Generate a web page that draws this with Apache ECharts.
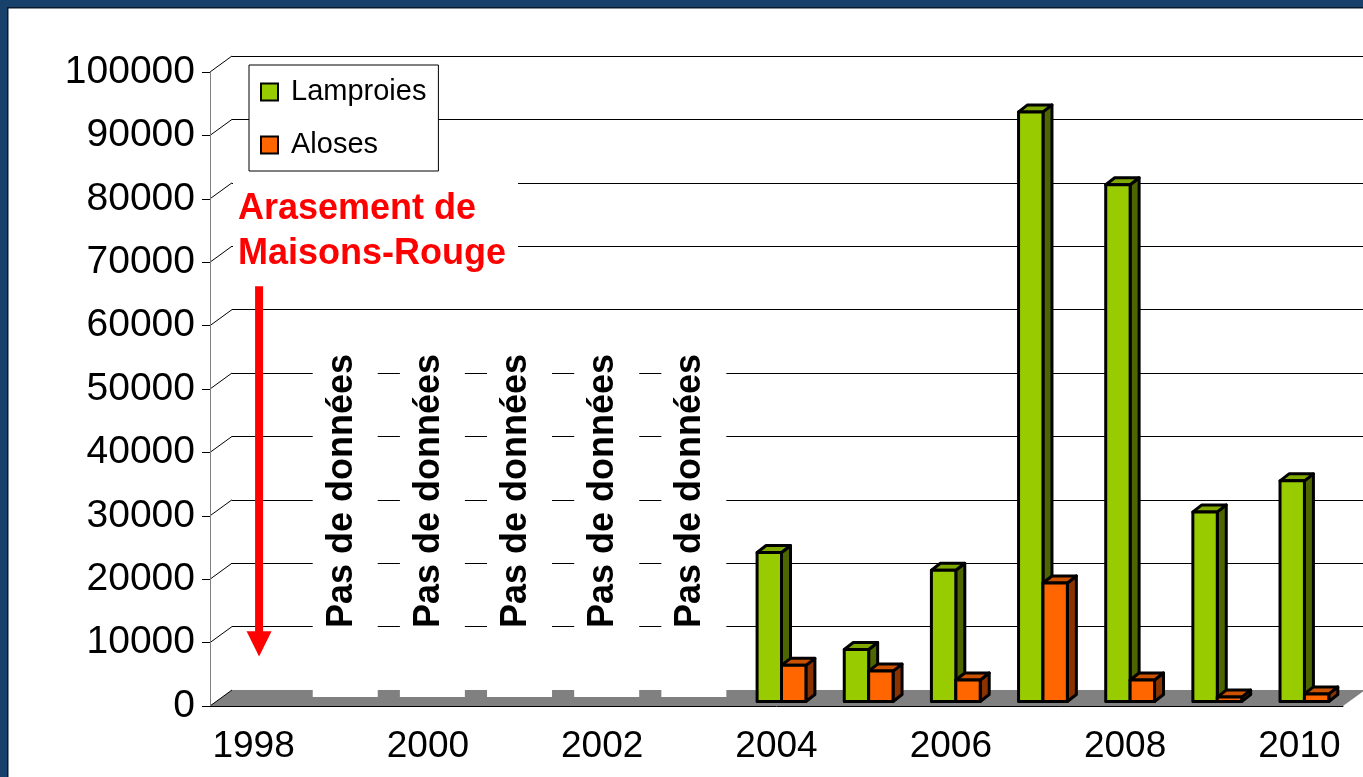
<!DOCTYPE html>
<html>
<head>
<meta charset="utf-8">
<title>Lamproies et aloses</title>
<script src="https://cdn.jsdelivr.net/npm/echarts@6/dist/echarts.min.js"></script>
<style>
  html, body { margin: 0; padding: 0; background: #fff; }
  #chart { width: 1363px; height: 777px; }
</style>
</head>
<body>
<div id="chart"></div>
<script>
// data
const years = ['1998', '1999', '2000', '2001', '2002', '2003', '2004', '2005', '2006', '2007', '2008', '2009', '2010'];
const lamproies = [null, null, null, null, null, null, 23500, 8200, 20700, 93000, 81500, 29900, 34800];
const aloses = [null, null, null, null, null, null, 5700, 4800, 3400, 18700, 3400, 700, 1200];
const noDataYears = ['1999', '2000', '2001', '2002', '2003'];
const yTicks = [0, 10000, 20000, 30000, 40000, 50000, 60000, 70000, 80000, 90000, 100000];
const seriesNames = ['Lamproies', 'Aloses'];
const damYear = '1998';

const FONT = "'Liberation Sans', Arial, Helvetica, sans-serif";
// 3D look: back wall offset, and the plane the bars stand in
const DEPTH = { dx: 22, dy: -16 };
const BAR_PLANE = { dx: 5, dy: -4.5 };
const BAR_DEPTH = { dx: 9, dy: -7 };

const chart = echarts.init(document.getElementById('chart'));

function barRenderer(idx, front, top, side) {
  return function (params, api) {
    const v = api.value(1);
    if (v == null || isNaN(v)) return null;
    const base = api.coord([api.value(0), 0]);
    const head = api.coord([api.value(0), v]);
    const band = api.size([1, 0])[0];
    const bw = band * 0.28;
    const cx = base[0] + BAR_PLANE.dx;
    const l = idx === 0 ? cx - bw : cx;
    const r = l + bw;
    const yb = base[1] + BAR_PLANE.dy;
    const yt = head[1] + BAR_PLANE.dy;
    const dx = BAR_DEPTH.dx, dy = BAR_DEPTH.dy;
    const stroke = { stroke: '#000', lineWidth: 3, lineJoin: 'round' };
    return {
      type: 'group',
      children: [
        { type: 'polygon', shape: { points: [[r, yt], [r + dx, yt + dy], [r + dx, yb + dy], [r, yb]] },
          style: Object.assign({ fill: side }, stroke) },
        { type: 'polygon', shape: { points: [[l, yt], [l + dx, yt + dy], [r + dx, yt + dy], [r, yt]] },
          style: Object.assign({ fill: top }, stroke) },
        { type: 'rect', shape: { x: l, y: yt, width: bw, height: yb - yt },
          style: Object.assign({ fill: front }, stroke) }
      ]
    };
  };
}

const option = {
  animation: false,
  textStyle: { fontFamily: FONT },
  grid: [
    { left: 210, top: 72, width: 1133, height: 634, outerBoundsMode: 'none' },
    { left: 232, top: 56, width: 1133, height: 634, outerBoundsMode: 'none' }
  ],
  legend: {
    left: 249,
    top: 65,
    orient: 'vertical',
    icon: 'rect',
    itemWidth: 17,
    itemHeight: 17,
    itemGap: 17,
    padding: [9, 12, 8, 11],
    backgroundColor: '#fff',
    borderColor: '#000',
    borderWidth: 1,
    selectedMode: false,
    itemStyle: { borderColor: '#000', borderWidth: 2 },
    textStyle: { fontSize: 29, color: '#000', lineHeight: 36, padding: [0, 0, 0, 8], fontFamily: FONT },
    data: seriesNames,
    z: 6
  },
  xAxis: [
    {
      gridIndex: 0,
      type: 'category',
      data: years,
      boundaryGap: true,
      z: 10,
      axisLine: { lineStyle: { color: '#000', width: 1 } },
      axisTick: { interval: 0, length: 9, lineStyle: { color: '#808080' } },
      axisLabel: { interval: 1, fontSize: 37, color: '#000', margin: 22, fontFamily: FONT, hideOverlap: false },
      splitLine: { show: false }
    },
    { gridIndex: 1, type: 'category', data: years, show: false }
  ],
  yAxis: [
    {
      gridIndex: 0,
      type: 'value',
      min: 0,
      max: 100000,
      interval: 10000,
      z: 10,
      axisLine: { show: true, lineStyle: { color: '#808080' } },
      axisTick: { show: true, length: 8, lineStyle: { color: '#000' } },
      axisLabel: { fontSize: 39, color: '#000', margin: 15, fontFamily: FONT, formatter: v => String(v), hideOverlap: false },
      splitLine: { show: false }
    },
    {
      gridIndex: 1,
      type: 'value',
      min: 0,
      max: 100000,
      interval: 10000,
      axisLine: { show: false },
      axisTick: { show: false },
      axisLabel: { show: false },
      splitLine: { show: true, lineStyle: { color: '#000', width: 1 } }
    }
  ],
  series: [
    {
      // grey floor
      type: 'custom',
      silent: true,
      z: 1,
      xAxisIndex: 0,
      yAxisIndex: 0,
      data: [[0, 0]],
      renderItem: function (params, api) {
        const cs = params.coordSys;
        const y0 = api.coord([0, 0])[1];
        return {
          type: 'polygon',
          shape: { points: [[cs.x, y0], [cs.x + cs.width, y0], [cs.x + cs.width + DEPTH.dx, y0 + DEPTH.dy], [cs.x + DEPTH.dx, y0 + DEPTH.dy]] },
          style: { fill: '#808080' }
        };
      }
    },
    {
      // side wall lines joining the front ticks to the back grid
      type: 'custom',
      silent: true,
      z: 4,
      xAxisIndex: 0,
      yAxisIndex: 0,
      data: yTicks.map(v => [0, v]),
      renderItem: function (params, api) {
        const cs = params.coordSys;
        const y = api.coord([0, api.value(1)])[1];
        return {
          type: 'line',
          shape: { x1: cs.x, y1: y, x2: cs.x + DEPTH.dx, y2: y + DEPTH.dy },
          style: { stroke: '#000', lineWidth: 1 }
        };
      }
    },
    {
      // "Pas de données" boxes
      type: 'custom',
      silent: true,
      z: 2,
      xAxisIndex: 0,
      yAxisIndex: 0,
      data: noDataYears.map(y => [y, 0]),
      renderItem: function (params, api) {
        const base = api.coord([api.value(0), 0]);
        const top = api.coord([api.value(0), 58000])[1];
        const textStart = api.coord([api.value(0), 12300])[1];
        const cx = base[0];
        return {
          type: 'group',
          children: [
            { type: 'rect', shape: { x: cx - 28, y: top, width: 65, height: base[1] - 9 - top },
              style: { fill: '#fff' } },
            { type: 'text', x: cx + 1, y: textStart, rotation: Math.PI / 2,
              style: { text: 'Pas de données', fontSize: 36, fontWeight: 'bold', fontFamily: FONT,
                fill: '#000', align: 'left', verticalAlign: 'middle' } }
          ]
        };
      }
    },
    {
      name: seriesNames[0],
      type: 'custom',
      z: 3,
      xAxisIndex: 0,
      yAxisIndex: 0,
      itemStyle: { color: '#99CC00' },
      data: years.map((y, i) => [y, lamproies[i]]).filter(d => d[1] != null),
      renderItem: barRenderer(0, '#99CC00', '#7FA800', '#4D6600')
    },
    {
      name: seriesNames[1],
      type: 'custom',
      z: 3,
      xAxisIndex: 0,
      yAxisIndex: 0,
      itemStyle: { color: '#FF6600' },
      data: years.map((y, i) => [y, aloses[i]]).filter(d => d[1] != null),
      renderItem: barRenderer(1, '#FF6600', '#CC5200', '#8A3300')
    },
    {
      // red arrow pointing at the dam removal year
      type: 'custom',
      silent: true,
      z: 5,
      xAxisIndex: 0,
      yAxisIndex: 0,
      data: [[damYear, 0]],
      renderItem: function (params, api) {
        const cx = api.coord([api.value(0), 0])[0] + 5.5;
        const yTop = api.coord([api.value(0), 66200])[1];
        const yHead = api.coord([api.value(0), 11800])[1];
        const yTip = api.coord([api.value(0), 7800])[1];
        return {
          type: 'group',
          children: [
            { type: 'rect', shape: { x: cx - 4, y: yTop, width: 8, height: yHead - yTop + 1 }, style: { fill: '#FF0000' } },
            { type: 'polygon', shape: { points: [[cx - 12.5, yHead], [cx + 12.5, yHead], [cx, yTip]] }, style: { fill: '#FF0000' } }
          ]
        };
      }
    }
  ],
  graphic: [
    // slide frame
    { type: 'rect', silent: true, z: 100, shape: { x: 0, y: 0, width: 7, height: 777 }, style: { fill: '#17406A' } },
    { type: 'rect', silent: true, z: 100, shape: { x: 0, y: 0, width: 1363, height: 7 }, style: { fill: '#17406A' } },
    { type: 'rect', silent: true, z: 100, shape: { x: 7, y: 7, width: 1.5, height: 770 }, style: { fill: '#0A1A2B' } },
    { type: 'rect', silent: true, z: 100, shape: { x: 7, y: 7, width: 1356, height: 1.5 }, style: { fill: '#0A1A2B' } },
    // annotation
    { type: 'rect', silent: true, z: 50, shape: { x: 233, y: 172, width: 285, height: 108 }, style: { fill: '#fff' } },
    { type: 'text', silent: true, z: 51, x: 238, y: 209,
      style: { text: 'Arasement de', fontSize: 36, fontWeight: 'bold', fontFamily: FONT, fill: '#FF0000', verticalAlign: 'middle' } },
    { type: 'text', silent: true, z: 51, x: 238, y: 254,
      style: { text: 'Maisons-Rouge', fontSize: 36, fontWeight: 'bold', fontFamily: FONT, fill: '#FF0000', verticalAlign: 'middle' } }
  ]
};

chart.setOption(option);
</script>
</body>
</html>
